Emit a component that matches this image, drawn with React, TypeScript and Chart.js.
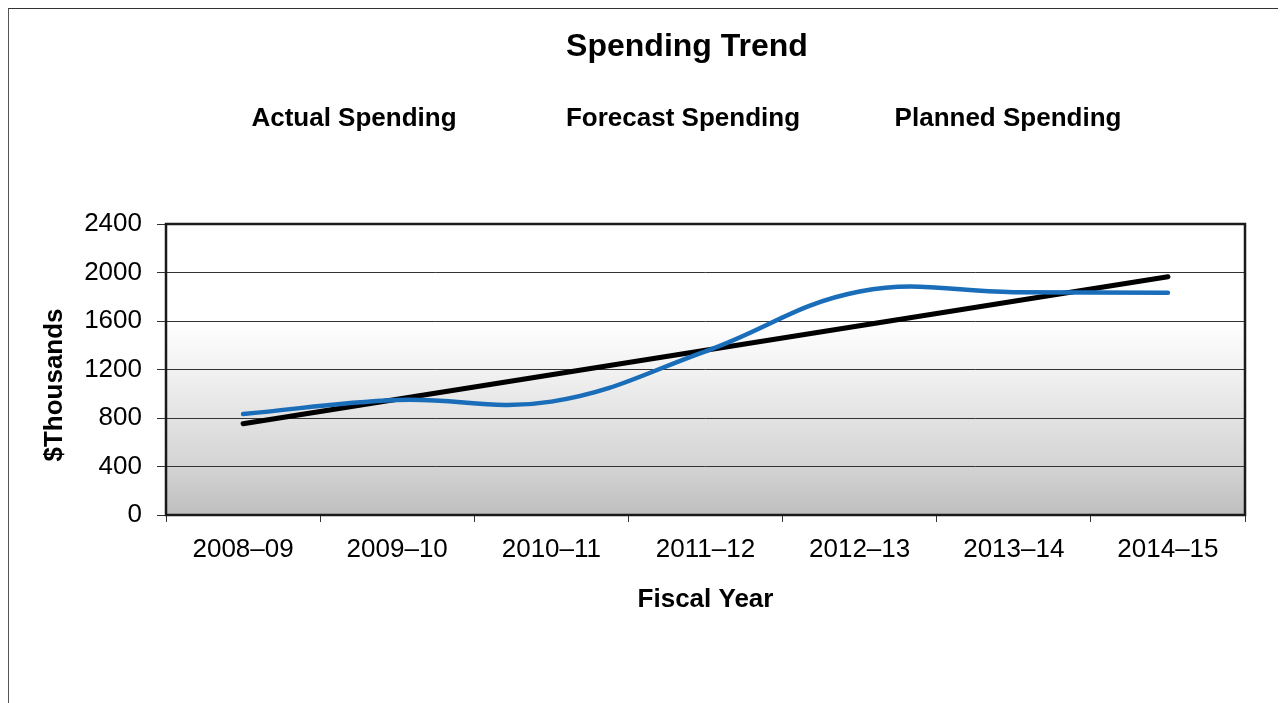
import React, { useEffect, useRef } from "react";
import { Chart, registerables } from "chart.js";

Chart.register(...registerables);

const categories = ["2008–09", "2009–10", "2010–11", "2011–12", "2012–13", "2013–14", "2014–15"];
const spending = [833, 948, 935, 1350, 1843, 1838, 1833];
const trendEnds = [753, null, null, null, null, null, 1965];
const yTicks = [0, 400, 800, 1200, 1600, 2000, 2400];
const chartTitle = "Spending Trend";
const sectionLabels = ["Actual Spending", "Forecast Spending", "Planned Spending"];
const sectionCenters = [345, 674, 999];
const xTitle = "Fiscal Year";
const yTitle = "$Thousands";

const FONT = "'Liberation Sans', Arial, Helvetica, sans-serif";

const decorPlugin = {
  id: "decor",
  beforeDraw(chart: any) {
    const { ctx, chartArea: a } = chart;
    ctx.save();
    const g = ctx.createLinearGradient(0, a.top, 0, a.bottom);
    g.addColorStop(0, "#ffffff");
    g.addColorStop(0.33, "#ffffff");
    g.addColorStop(0.5, "#f2f2f2");
    g.addColorStop(0.67, "#e2e2e2");
    g.addColorStop(0.84, "#d3d3d3");
    g.addColorStop(1, "#bebebe");
    ctx.fillStyle = g;
    ctx.fillRect(a.left, a.top, a.right - a.left, a.bottom - a.top);
    ctx.restore();
  },
  beforeDatasetsDraw(chart: any) {
    const { ctx, chartArea: a } = chart;
    ctx.save();
    ctx.strokeStyle = "#1a1a1a";
    ctx.lineWidth = 2.5;
    ctx.strokeRect(a.left, a.top, a.right - a.left, a.bottom - a.top);
    ctx.restore();
  },
  afterDraw(chart: any) {
    const { ctx, chartArea: a } = chart;
    ctx.save();
    ctx.fillStyle = "#000";
    ctx.textAlign = "center";
    ctx.textBaseline = "alphabetic";
    ctx.font = `bold 32px ${FONT}`;
    ctx.fillText(chartTitle, 678, 47);
    ctx.font = `bold 26px ${FONT}`;
    sectionLabels.forEach((t, i) => ctx.fillText(t, sectionCenters[i], 117));
    ctx.fillText(xTitle, (a.left + a.right) / 2, 598);
    ctx.translate(52.5, 376);
    ctx.rotate(-Math.PI / 2);
    ctx.fillText(yTitle, 0, 0);
    ctx.restore();
  },
};

export default function App() {
  const ref = useRef<HTMLCanvasElement | null>(null);
  useEffect(() => {
    document.body.style.overflow = "hidden";
    if (!ref.current) return;
    const chart = new Chart(ref.current, {
      type: "line",
      data: {
        labels: categories,
        datasets: [
          {
            label: "Spending",
            data: spending,
            borderColor: "#1a6db9",
            borderWidth: 4.5,
            tension: 0.4,
            pointRadius: 0,
            borderCapStyle: "round",
            fill: false,
          },
          {
            label: "Trend",
            data: trendEnds,
            borderColor: "#000000",
            borderWidth: 5,
            spanGaps: true,
            tension: 0,
            pointRadius: 0,
            borderCapStyle: "round",
            fill: false,
          },
        ],
      },
      options: {
        animation: false,
        responsive: false,
        devicePixelRatio: 1,
        layout: { padding: { top: 215, right: 41, bottom: 0, left: 0 } },
        plugins: {
          legend: { display: false },
          title: { display: false },
          tooltip: { enabled: false },
        },
        scales: {
          x: {
            type: "category",
            offset: true,
            afterFit: (s: any) => {
              s.height = 188;
            },
            grid: {
              offset: true,
              drawOnChartArea: false,
              drawTicks: true,
              tickLength: 7,
              color: "#333",
            },
            border: { display: false },
            ticks: {
              color: "#000",
              padding: 12,
              maxRotation: 0,
              autoSkip: false,
              font: { family: FONT, size: 26 },
            },
          },
          y: {
            min: 0,
            max: 2400,
            afterFit: (s: any) => {
              s.width = 157;
            },
            afterBuildTicks: (s: any) => {
              s.ticks = yTicks.map((v) => ({ value: v }));
            },
            grid: {
              color: "#333",
              lineWidth: 1,
              drawTicks: true,
              tickLength: 9,
            },
            border: { display: false },
            ticks: {
              color: "#000",
              padding: 15,
              font: { family: FONT, size: 26 },
              callback: (v: any) => String(v),
            },
          },
        },
      },
      plugins: [decorPlugin],
    });
    return () => chart.destroy();
  }, []);
  return (
    <div
      style={{
        width: 1277,
        height: 694,
        borderTop: "1px solid #333",
        borderLeft: "1px solid #555",
      }}
    >
      <canvas ref={ref} width={1277} height={694} style={{ display: "block", width: 1277, height: 694 }} />
    </div>
  );
}
